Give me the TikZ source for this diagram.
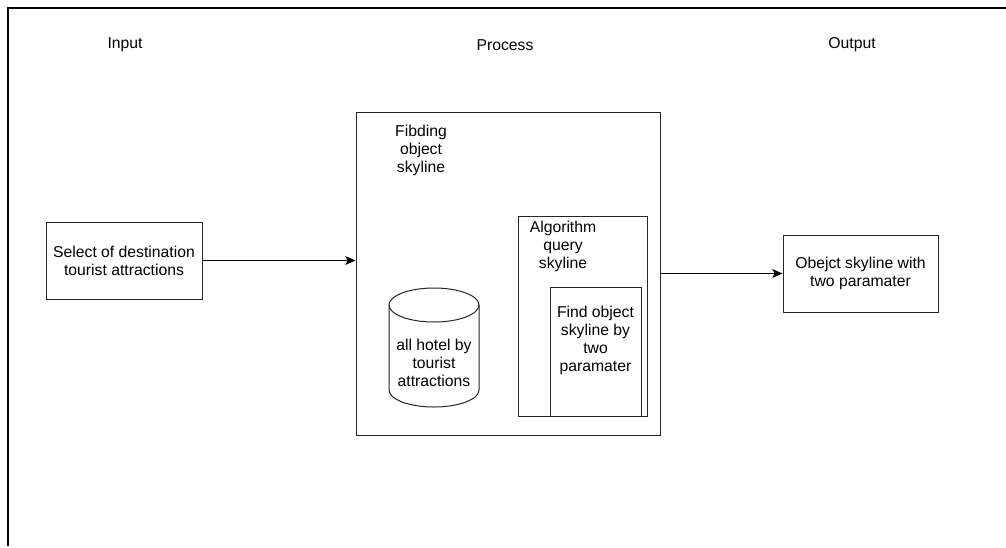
\documentclass[tikz,border=0pt]{standalone}
\usepackage{fontspec}
\setmainfont{Liberation Sans}
\usetikzlibrary{arrows.meta, positioning, shapes.geometric}
\tikzset{
  box/.style={
    rectangle, draw=black!85, line width=0.75pt, fill=white,
    align=center, inner sep=0pt,
    font=\fontsize{11.8}{13.5}\selectfont
  },
  caption/.style={align=center, inner sep=0pt, font=\fontsize{11.8}{13.5}\selectfont},
  store/.style={draw=black!85, line width=0.75pt, fill=white},
  frame/.style={line width=1.1pt, draw=black},
  arrow/.style={-{Stealth[length=7.5pt,width=6.5pt,inset=1.5pt]}, line width=0.75pt, draw=black},
}
\begin{document}
\begin{tikzpicture}[x=0.75pt, y=-0.75pt]
  \useasboundingbox (0,0) rectangle (1006,547);
  \draw[frame] (1006,8) -- (8,8) -- (8,546);

  \node[caption] (hin) at (125,45) {Input};
  \node[caption] (hproc) at (505,45) {Process};
  \node[caption] (hout) at (852,45) {Output};

  \node[box, minimum width=117pt, minimum height=57.75pt] (select) at (124,260.5)
    {Select of destination\\tourist attractions};
  \node[box, minimum width=228pt, minimum height=242.25pt] (proc) at (508,273.5) {};
  \node[caption] (proctitle) at (421,150) {Fibding\\object\\skyline};

  % database drum
  \draw[store] (389,305) -- (389,390) arc (180:0:45 and 17) -- (479,305)
    arc (0:-180:45 and 17) -- cycle;
  \draw[store, fill=none] (389,305) arc (180:0:45 and 17);
  \node[caption] (hotels) at (434,363) {all hotel by\\tourist\\attractions};

  \node[box, minimum width=96.75pt, minimum height=150pt] (algo) at (582.5,316) {};
  \node[caption] (algotitle) at (563,246) {Algorithm\\query\\skyline};
  \node[box, minimum width=68.25pt, minimum height=96.75pt] (find) at (595.5,351.5) {};
  \node[caption] (findtext) at (595.5,340) {Find object\\skyline by\\two\\paramater};

  \node[box, minimum width=116.25pt, minimum height=57.75pt] (result) at (860.5,273.5)
    {Obejct skyline with\\two paramater};

  \draw[arrow] (select) -- (select -| proc.west);
  \draw[arrow] (proc) -- (result);
\end{tikzpicture}
\end{document}
